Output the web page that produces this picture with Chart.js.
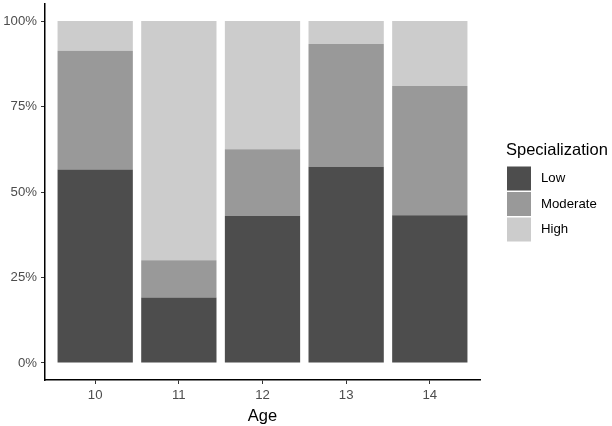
<!DOCTYPE html>
<html>
<head>
<meta charset="utf-8">
<script src="https://cdn.jsdelivr.net/npm/chart.js@4/dist/chart.umd.min.js"></script>
<style>
  html, body { margin: 0; padding: 0; background: #fff; }
  #wrap { width: 612px; height: 426px; }
</style>
</head>
<body>
<div id="wrap"><canvas id="chart-stack" width="612" height="426"></canvas></div>
<script>
// values (share of players per age)
const ages = [10, 11, 12, 13, 14];
const low = [0.566, 0.191, 0.430, 0.574, 0.432];
const moderate = [0.347, 0.109, 0.195, 0.359, 0.378];
const high = [0.087, 0.700, 0.375, 0.067, 0.190];
const yTicks = [0, 0.25, 0.5, 0.75, 1];
const legendTitle = 'Specialization';

const font = '"Liberation Sans", Arial, sans-serif';

// ggplot-style legend at the right side
const sideLegend = {
    id: 'sideLegend',
    afterDraw(chart) {
        const c = chart.ctx;
        c.save();
        c.fillStyle = '#000';
        c.textBaseline = 'alphabetic';
        c.font = '16.5px ' + font;
        c.fillText(legendTitle, 506, 155);
        chart.data.datasets.forEach(function(ds, i) {
            const y = 166.5 + i * 25.5;
            c.fillStyle = ds.backgroundColor;
            c.fillRect(507, y, 24, 24);
            c.fillStyle = '#000';
            c.font = '13.2px ' + font;
            c.textBaseline = 'middle';
            c.fillText(ds.label, 541, y + 12);
        });
        c.restore();
    }
};

const ctx = document.getElementById('chart-stack').getContext('2d');

new Chart(ctx, {
    type: 'bar',
    data: {
        labels: ages,
        datasets: [{
                label: 'Low',
                data: low,
                backgroundColor: '#4d4d4d',
                borderWidth: 0
            },
            {
                label: 'Moderate',
                data: moderate,
                backgroundColor: '#999999',
                borderWidth: 0
            },
            {
                label: 'High',
                data: high,
                backgroundColor: '#cccccc',
                borderWidth: 0
            }
        ]
    },
    options: {
        responsive: false,
        animation: false,
        categoryPercentage: 1,
        barPercentage: 0.9,
        layout: {
            padding: { top: 4, right: 132, left: 0, bottom: 0 }
        },
        plugins: {
            legend: { display: false },
            tooltip: { enabled: false }
        },
        scales: {
            x: {
                type: 'linear',
                stacked: true,
                offset: false,
                min: 9.4,
                max: 14.6,
                afterBuildTicks: function(scale) {
                    scale.ticks = ages.map(v => ({ value: v }));
                },
                afterFit: function(scale) {
                    scale.height = 46;
                    scale.paddingLeft = 0;
                    scale.paddingRight = 0;
                },
                border: { display: true, color: '#000', width: 1.5 },
                grid: {
                    display: true,
                    offset: false,
                    drawOnChartArea: false,
                    drawTicks: true,
                    tickLength: 4,
                    color: '#333'
                },
                ticks: {
                    padding: 3,
                    color: '#4d4d4d',
                    font: { size: 13.2, family: font },
                    callback: v => String(v)
                },
                title: {
                    display: true,
                    text: 'Age',
                    color: '#000',
                    padding: { top: 5, bottom: 0 },
                    font: { size: 16.5, family: font }
                }
            },
            y: {
                stacked: true,
                min: -0.05,
                max: 1.05,
                afterBuildTicks: function(scale) {
                    scale.ticks = yTicks.map(v => ({ value: v }));
                },
                afterFit: function(scale) {
                    scale.width = 45;
                    // the end ticks sit inside the axis, so no overflow room needed
                    scale.paddingTop = 0;
                    scale.paddingBottom = 0;
                },
                border: { display: true, color: '#000', width: 1.5 },
                grid: {
                    display: true,
                    drawOnChartArea: false,
                    drawTicks: true,
                    tickLength: 4,
                    color: '#333'
                },
                ticks: {
                    padding: 4,
                    color: '#4d4d4d',
                    font: { size: 13.2, family: font },
                    callback: v => Math.round(v * 100) + '%'
                }
            }
        }
    },
    plugins: [sideLegend]
});
</script>
</body>
</html>
